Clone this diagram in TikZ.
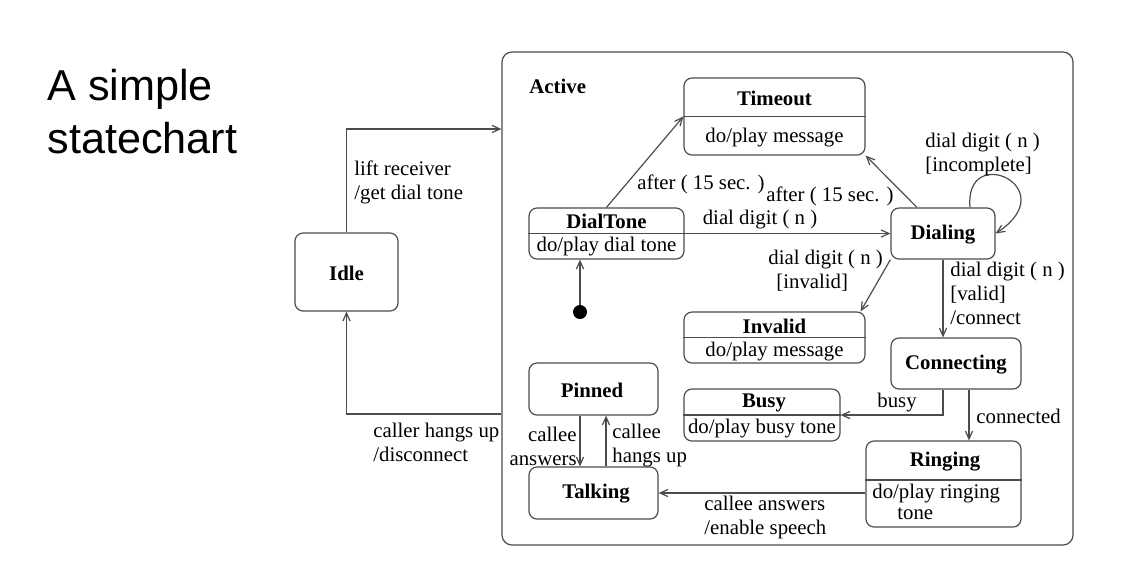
\documentclass[tikz,border=0pt]{standalone}
\usepackage{fontspec}
\setmainfont{Liberation Serif}
\newfontfamily\titlefont{Liberation Sans}
\usetikzlibrary{arrows.meta}
\definecolor{linegray}{gray}{0.3}

\begin{document}
\begin{tikzpicture}[x=0.5pt, y=-0.5pt, every node/.style={inner sep=0pt}]
    \tikzstyle{state} = [draw=linegray, line width=0.6pt, rounded corners=4pt]
    \tikzstyle{txt} = [font=\fontsize{10.4}{12}\selectfont, yshift=-0.5pt]
    \tikzstyle{sname} = [txt, font=\fontsize{10.4}{12}\selectfont\bfseries]
    \tikzstyle{edge} = [draw=linegray, line width=0.6pt, -{Straight Barb[length=4pt,width=3.6pt]}]
    \tikzstyle{divide} = [draw=linegray, line width=0.6pt]

    \useasboundingbox (0,0) rectangle (1124,570);

    \node[font=\fontsize{21.6}{26.5}\selectfont\titlefont, align=left, anchor=west] (title) at (47,112) {A simple\\statechart};

    % states
    \node[state, minimum width=285.5pt, minimum height=246.5pt, rounded corners=5pt] (act) at (787.5,298.5) {};
    \node[sname, anchor=west] (act-h) at (529,85) {Active};
    \node[state, minimum width=51.5pt, minimum height=39pt] (idle) at (346.5,272) {};
    \node[sname] (idle-h) at (346.5,272) {Idle};
    \node[state, minimum width=90.5pt, minimum height=38.5pt] (tmo) at (774.5,116.5) {};
    \node[sname] (tmo-h) at (774.5,97) {Timeout};
    \node[txt] (tmo-b) at (774.5,137) {do/play message};
    \node[state, minimum width=77.5pt, minimum height=25.5pt] (dtone) at (606.5,233.5) {};
    \node[sname] (dtone-h) at (606.5,220) {DialTone};
    \node[txt] (dtone-b) at (606.5,246) {do/play dial tone};
    \node[state, minimum width=52pt, minimum height=25.5pt] (dial) at (943,233.5) {};
    \node[sname] (dial-h) at (943,234) {Dialing};
    \node[state, minimum width=90.5pt, minimum height=25.5pt] (inv) at (774.5,337.5) {};
    \node[sname] (inv-h) at (774.5,325) {Invalid};
    \node[txt] (inv-b) at (774.5,351) {do/play message};
    \node[state, minimum width=65pt, minimum height=25.5pt] (conn) at (956,363.5) {};
    \node[sname] (conn-h) at (956,364) {Connecting};
    \node[state, minimum width=78pt, minimum height=26pt] (busy) at (762,415) {};
    \node[sname] (busy-h) at (764,402) {Busy};
    \node[txt] (busy-b) at (762,428) {do/play busy tone};
    \node[state, minimum width=77.5pt, minimum height=43pt] (ring) at (943.5,484) {};
    \node[sname] (ring-h) at (945,461) {Ringing};
    \node[txt, anchor=west] (ring-b1) at (872,493) {do/play ringing};
    \node[txt, anchor=west] (ring-b2) at (897,513) {tone};
    \node[state, minimum width=64.5pt, minimum height=26pt] (pin) at (593.5,389) {};
    \node[sname] (pin-h) at (592,389) {Pinned};
    \node[state, minimum width=64.5pt, minimum height=26pt] (talk) at (593.5,493) {};
    \node[sname] (talk-h) at (596,493) {Talking};
    \node[circle, fill=black, minimum size=7pt] (init) at (580,312) {};

    \draw[divide] (tmo.west) -- (tmo.east);
    \draw[divide] (dtone.west) -- (dtone.east);
    \draw[divide] (inv.west) -- (inv.east);
    \draw[divide] (busy.west) -- (busy.east);
    \draw[divide] ([yshift=2pt]ring.west) -- ([yshift=2pt]ring.east);

    % transitions
    \coordinate (actin) at (act.west |- 0,129);
    \coordinate (actout) at (act.west |- 0,414);
    \draw[edge] (idle.north) |- (actin);
    \draw[edge] (actout) -| (idle.south);
    \draw[edge] (init) -- (init |- dtone.south);
    \draw[edge] (dtone.north) -- (tmo.west);
    \draw[edge] (dtone.east) -- (dial.west);
    \draw[edge] ([xshift=-13pt]dial.north) -- (tmo.south east);
    \draw[edge] ([xshift=13.5pt]dial.north) .. controls +(-6,-66) and +(70,-46) .. (dial.east);
    \draw[edge] (dial.south west) -- ([xshift=-2.5pt]inv.north east);
    \draw[edge] (dial.south) -- (dial.south |- conn.north);
    \draw[edge] (dial.south |- conn.south) |- (busy.east);
    \draw[edge] ([xshift=6.5pt]conn.south) -- ([xshift=6.5pt]conn.south |- ring.north);
    \draw[edge] (ring.west |- talk.east) -- (talk.east);
    \draw[edge] ([xshift=-6.75pt]pin.south) -- ([xshift=-6.75pt]talk.north);
    \draw[edge] ([xshift=6.25pt]talk.north) -- ([xshift=6.25pt]pin.south);

    % transition labels
    \node[txt, align=left, anchor=west] (l-lift) at (354,181) {lift receiver\\/get dial tone};
    \node[txt, align=left, anchor=west] (l-hang) at (373,441) {caller hangs up\\/disconnect};
    \node[txt] (l-after1) at (701,183) {after ( 15 sec. )};
    \node[txt] (l-after2) at (830,195) {after ( 15 sec. )};
    \node[txt] (l-digit) at (760,219) {dial digit ( n )};
    \node[txt, align=left, anchor=west] (l-incomp) at (925,153) {dial digit ( n )\\{[incomplete]}};
    \node[txt, align=left, anchor=west] (l-invalid) at (768,270) {dial digit ( n )\\\hspace*{4pt}{[invalid]}};
    \node[txt, align=left, anchor=west] (l-valid) at (950,292) {dial digit ( n )\\{[valid]}\\/connect};
    \node[txt] (l-busy) at (897,402) {busy};
    \node[txt, anchor=west] (l-conn) at (976,415) {connected};
    \node[txt, align=left, anchor=west] (l-answer) at (704,516) {callee answers\\/enable speech};
    \node[txt, align=right, anchor=east] (l-cans) at (577,445) {callee\\answers};
    \node[txt, align=left, anchor=west] (l-chang) at (612,445) {callee\\hangs up};
\end{tikzpicture}
\end{document}
